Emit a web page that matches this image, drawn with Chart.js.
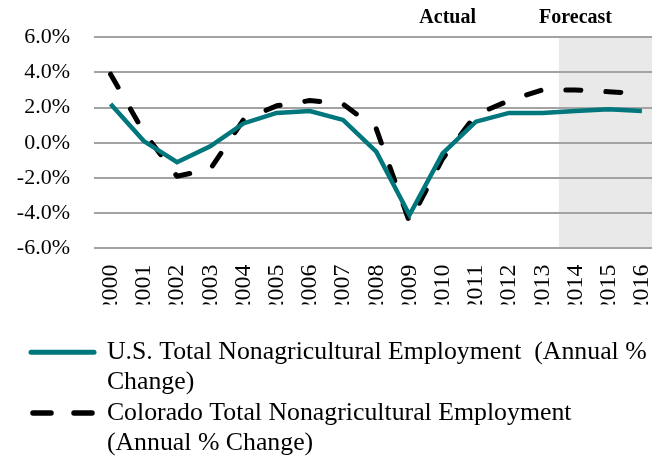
<!DOCTYPE html>
<html><head><meta charset="utf-8">
<script src="https://cdn.jsdelivr.net/npm/chart.js@4.4.1/dist/chart.umd.min.js"></script>
<style>
html,body{margin:0;padding:0;background:#fff;overflow:hidden;width:652px;height:459px;}
#wrap{position:absolute;left:-4px;top:0;width:665px;height:466px;}
</style></head><body>
<div id="wrap"><canvas id="c" width="665" height="466"></canvas></div>
<script>
const years = ['2000','2001','2002','2003','2004','2005','2006','2007','2008','2009','2010','2011','2012','2013','2014','2015','2016'];
const usChange = [2.2, 0.1, -1.1, -0.2, 1.1, 1.7, 1.8, 1.3, -0.5, -4.1, -0.6, 1.2, 1.7, 1.7, 1.8, 1.9, 1.8];
const coChange = [3.9, 0.6, -1.9, -1.5, 1.3, 2.1, 2.4, 2.2, 0.8, -4.5, -0.9, 1.6, 2.4, 3.0, 3.0, 2.9, 2.8];
const usLabel = ['U.S. Total Nonagricultural Employment  (Annual %', 'Change)'];
const coLabel = ['Colorado Total Nonagricultural Employment', '(Annual % Change)'];
const actualLabel = 'Actual';
const forecastLabel = 'Forecast';
const forecastStart = '2014';
const actualLabelYear = '2010';

const SERIF = '"Liberation Serif", "Times New Roman", serif';
const TEAL = '#00767d';

const forecastShade = {
  id: 'forecastShade',
  beforeDraw(chart) {
    const {ctx, chartArea: a, scales: {x}} = chart;
    const i = years.indexOf(forecastStart);
    const left = (x.getPixelForValue(i - 1) + x.getPixelForValue(i)) / 2;
    ctx.save();
    ctx.fillStyle = '#e9e9e9';
    ctx.fillRect(left, a.top, a.right - left, a.bottom - a.top);
    ctx.restore();
  }
};

const periodText = {
  id: 'periodText',
  afterDraw(chart) {
    const {ctx, scales: {x}} = chart;
    ctx.save();
    ctx.font = 'bold 20px ' + SERIF;
    ctx.fillStyle = '#000';
    ctx.textAlign = 'center';
    ctx.textBaseline = 'alphabetic';
    ctx.fillText(actualLabel, x.getPixelForValue(years.indexOf(actualLabelYear)) + 5, 23);
    ctx.fillText(forecastLabel, x.getPixelForValue(years.indexOf(forecastStart)), 23);
    ctx.restore();
  }
};

// give the two-line legend entries room inside the legend box
const legendRoom = {
  id: 'legendRoom',
  afterInit(chart) {
    const lg = chart.legend;
    if (!lg) return;
    const fit = lg.fit.bind(lg);
    lg.fit = function () { fit(); this.height += 30; };
  }
};

const chart = new Chart(document.getElementById('c'), {
  type: 'line',
  data: {
    labels: years,
    datasets: [
      {
        label: usLabel.join(' '),
        data: usChange,
        borderColor: TEAL,
        backgroundColor: TEAL,
        borderWidth: 4.5,
        pointRadius: 0,
        tension: 0,
        fill: false,
        borderJoinStyle: 'miter'
      },
      {
        label: coLabel.join(' '),
        data: coChange,
        borderColor: '#000',
        backgroundColor: '#000',
        borderWidth: 5,
        borderDash: [15, 25],
        borderCapStyle: 'round',
        borderJoinStyle: 'round',
        pointRadius: 0,
        tension: 0,
        fill: false
      }
    ]
  },
  options: {
    responsive: false,
    animation: false,
    devicePixelRatio: 1,
    layout: { padding: { top: 34, left: 0, right: 0, bottom: 0 } },
    scales: {
      x: {
        offset: true,
        grid: { display: false, drawTicks: false, offset: true },
        border: { display: false },
        ticks: {
          autoSkip: false, minRotation: 90, maxRotation: 90, padding: 16,
          color: '#000', font: { family: SERIF, size: 24 }
        },
        afterFit(s) { s.height = 56; s.paddingRight = 0; s.paddingLeft = 0; }
      },
      y: {
        min: -6, max: 6,
        grid: { color: '#a3a3a3', lineWidth: 2, drawTicks: false },
        border: { display: false },
        ticks: {
          stepSize: 2, padding: 24, color: '#000',
          font: { family: SERIF, size: 22 },
          callback: v => v.toFixed(1) + '%'
        },
        afterFit(s) { s.width = 98; }
      }
    },
    plugins: {
      tooltip: { enabled: false },
      legend: {
        position: 'bottom',
        align: 'start',
        labels: {
          usePointStyle: true,
          pointStyleWidth: 63,
          padding: 35,
          color: '#000',
          font: { family: SERIF, size: 25.8, lineHeight: 1.17 },
          generateLabels(chart) {
            return [
              { text: usLabel, fillStyle: TEAL, strokeStyle: TEAL, lineWidth: 5, lineCap: 'round', lineDash: [], pointStyle: 'line', datasetIndex: 0, hidden: false },
              { text: coLabel, fillStyle: '#000', strokeStyle: '#000', lineWidth: 5.5, lineCap: 'round', lineDash: [18, 23], lineDashOffset: 39, pointStyle: 'line', datasetIndex: 1, hidden: false }
            ];
          }
        }
      }
    }
  },
  plugins: [forecastShade, periodText, legendRoom]
});
chart.update();
</script>
</body></html>
